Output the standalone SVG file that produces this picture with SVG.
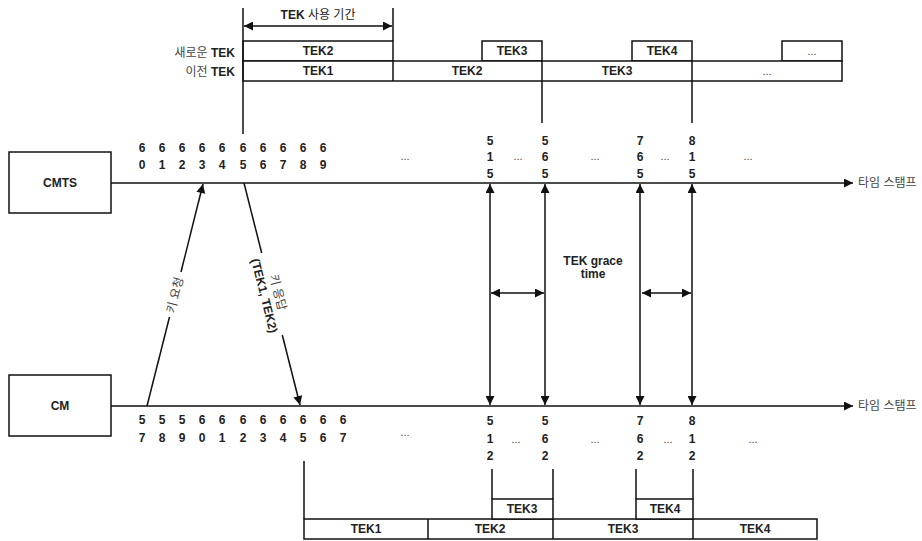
<svg xmlns="http://www.w3.org/2000/svg" width="922" height="541" viewBox="0 0 922 541">
<style>
  .ln{stroke:#111;stroke-width:1.5;fill:none}
  .bx{stroke:#111;stroke-width:1.5;fill:#fff}
  .t{font-family:"Liberation Sans","Noto Sans CJK KR",sans-serif;font-size:12px;font-weight:bold;fill:#222;text-anchor:middle}
  .k{font-family:"Liberation Sans","Noto Sans CJK KR",sans-serif;font-size:12px;fill:#444}
  .n{font-family:"Liberation Sans",sans-serif;font-size:12px;font-weight:bold;fill:#222;text-anchor:middle}
  .d{font-family:"Liberation Sans",sans-serif;font-size:11px;fill:#444;text-anchor:middle}
</style>
<defs>
  <marker id="ah" viewBox="0 0 10 10" refX="10" refY="5" markerWidth="10" markerHeight="9" markerUnits="userSpaceOnUse" orient="auto-start-reverse">
    <path d="M0,0 L10,5 L0,10 z" fill="#111"/>
  </marker>
</defs>
<rect width="922" height="541" fill="#fff"/>

<g id="tek-schedule-top">
  <text class="t" x="318" y="19">TEK <tspan font-weight="normal">사용 기간</tspan></text>
  <rect class="bx" x="243" y="41" width="150" height="20"/>
  <text class="t" x="318" y="55">TEK2</text>
  <rect class="bx" x="482" y="41" width="60" height="20"/>
  <text class="t" x="512" y="55">TEK3</text>
  <rect class="bx" x="632" y="41" width="60" height="20"/>
  <text class="t" x="662" y="55">TEK4</text>
  <rect class="bx" x="782" y="41" width="60" height="20"/>
  <text class="d" x="812" y="55">...</text>
  <rect class="bx" x="243" y="61" width="599" height="20"/>
  <line class="ln" x1="393" y1="61" x2="393" y2="81"/>
  <line class="ln" x1="542" y1="61" x2="542" y2="81"/>
  <line class="ln" x1="692" y1="61" x2="692" y2="81"/>
  <text class="t" x="318" y="75">TEK1</text>
  <text class="t" x="467" y="75">TEK2</text>
  <text class="t" x="617" y="75">TEK3</text>
  <text class="d" x="767" y="75">...</text>
  <text class="k" x="235" y="57" text-anchor="end">새로운 <tspan font-weight="bold" fill="#222">TEK</tspan></text>
  <text class="k" x="235" y="76" text-anchor="end">이전 <tspan font-weight="bold" fill="#222">TEK</tspan></text>
</g>

<g id="cmts">
  <rect class="bx" x="9" y="152" width="102" height="61"/>
  <text class="t" x="60" y="187">CMTS</text>
</g>
<g id="cm">
  <rect class="bx" x="9" y="375" width="102" height="61"/>
  <text class="t" x="60" y="410">CM</text>
</g>

<g id="cmts-timestamps">
  <g class="n">
    <text x="142" y="152">6</text><text x="162" y="152">6</text><text x="182" y="152">6</text><text x="202" y="152">6</text><text x="222" y="152">6</text><text x="243" y="152">6</text><text x="263" y="152">6</text><text x="283" y="152">6</text><text x="303" y="152">6</text><text x="323" y="152">6</text>
    <text x="142" y="169">0</text><text x="162" y="169">1</text><text x="182" y="169">2</text><text x="202" y="169">3</text><text x="222" y="169">4</text><text x="243" y="169">5</text><text x="263" y="169">6</text><text x="283" y="169">7</text><text x="303" y="169">8</text><text x="323" y="169">9</text>
    <text x="490" y="145">5</text><text x="490" y="161">1</text><text x="490" y="178">5</text>
    <text x="545" y="145">5</text><text x="545" y="161">6</text><text x="545" y="178">5</text>
    <text x="640" y="145">7</text><text x="640" y="161">6</text><text x="640" y="178">5</text>
    <text x="692" y="145">8</text><text x="692" y="161">1</text><text x="692" y="178">5</text>
  </g>
  <text class="d" x="405" y="160">...</text>
  <text class="d" x="518" y="160">...</text>
  <text class="d" x="595" y="160">...</text>
  <text class="d" x="665" y="160">...</text>
  <text class="d" x="748" y="160">...</text>
  <text class="k" x="858" y="187">타임 스탬프</text>
</g>

<g id="cm-timestamps">
  <g class="n">
    <text x="142" y="424">5</text><text x="162" y="424">5</text><text x="182" y="424">5</text><text x="202" y="424">6</text><text x="222" y="424">6</text><text x="243" y="424">6</text><text x="263" y="424">6</text><text x="283" y="424">6</text><text x="303" y="424">6</text><text x="323" y="424">6</text><text x="343" y="424">6</text>
    <text x="142" y="442">7</text><text x="162" y="442">8</text><text x="182" y="442">9</text><text x="202" y="442">0</text><text x="222" y="442">1</text><text x="243" y="442">2</text><text x="263" y="442">3</text><text x="283" y="442">4</text><text x="303" y="442">5</text><text x="323" y="442">6</text><text x="343" y="442">7</text>
    <text x="490" y="425">5</text><text x="490" y="443">1</text><text x="490" y="460">2</text>
    <text x="545" y="425">5</text><text x="545" y="443">6</text><text x="545" y="460">2</text>
    <text x="640" y="425">7</text><text x="640" y="443">6</text><text x="640" y="460">2</text>
    <text x="692" y="425">8</text><text x="692" y="443">1</text><text x="692" y="460">2</text>
  </g>
  <text class="d" x="405" y="436">...</text>
  <text class="d" x="516" y="443">...</text>
  <text class="d" x="595" y="443">...</text>
  <text class="d" x="668" y="443">...</text>
  <text class="d" x="753" y="443">...</text>
  <text class="k" x="858" y="410">타임 스탬프</text>
</g>

<g id="tek-schedule-bottom">
  <line class="ln" x1="304" y1="461" x2="304" y2="519"/>
  <rect class="bx" x="304" y="519" width="513" height="20"/>
  <line class="ln" x1="428" y1="519" x2="428" y2="539"/>
  <line class="ln" x1="553" y1="519" x2="553" y2="539"/>
  <line class="ln" x1="693" y1="519" x2="693" y2="539"/>
  <text class="t" x="366" y="533">TEK1</text>
  <text class="t" x="490" y="533">TEK2</text>
  <text class="t" x="623" y="533">TEK3</text>
  <text class="t" x="755" y="533">TEK4</text>
  <line class="ln" x1="492" y1="469" x2="492" y2="499"/>
  <line class="ln" x1="553" y1="469" x2="553" y2="499"/>
  <rect class="bx" x="492" y="499" width="61" height="20"/>
  <text class="t" x="522" y="513">TEK3</text>
  <line class="ln" x1="636" y1="469" x2="636" y2="499"/>
  <line class="ln" x1="693" y1="469" x2="693" y2="499"/>
  <rect class="bx" x="636" y="499" width="57" height="20"/>
  <text class="t" x="665" y="513">TEK4</text>
</g>

<g id="connectors">
  <line class="ln" x1="243" y1="8" x2="243" y2="134"/>
  <line class="ln" x1="393" y1="8" x2="393" y2="41"/>
  <line class="ln" x1="244" y1="26" x2="392" y2="26" marker-start="url(#ah)" marker-end="url(#ah)"/>
  <line class="ln" x1="542" y1="81" x2="542" y2="123"/>
  <line class="ln" x1="692" y1="81" x2="692" y2="123"/>
  <line class="ln" x1="111" y1="183" x2="853" y2="183" marker-end="url(#ah)"/>
  <line class="ln" x1="111" y1="406" x2="853" y2="406" marker-end="url(#ah)"/>
  <line class="ln" x1="490" y1="184" x2="490" y2="405" marker-start="url(#ah)" marker-end="url(#ah)"/>
  <line class="ln" x1="545" y1="184" x2="545" y2="405" marker-start="url(#ah)" marker-end="url(#ah)"/>
  <line class="ln" x1="640" y1="184" x2="640" y2="405" marker-start="url(#ah)" marker-end="url(#ah)"/>
  <line class="ln" x1="692" y1="184" x2="692" y2="405" marker-start="url(#ah)" marker-end="url(#ah)"/>
  <line class="ln" x1="491" y1="293" x2="544" y2="293" marker-start="url(#ah)" marker-end="url(#ah)"/>
  <line class="ln" x1="642" y1="293" x2="691" y2="293" marker-start="url(#ah)" marker-end="url(#ah)"/>
  <text class="t" font-size="11" x="593" y="265">TEK grace</text>
  <text class="t" font-size="11" x="593" y="278">time</text>
  <!-- key request -->
  <line class="ln" x1="147" y1="406" x2="169.5" y2="317"/>
  <line class="ln" x1="181" y1="272" x2="203" y2="184" marker-end="url(#ah)"/>
  <text class="k" text-anchor="middle" transform="translate(175,295) rotate(-75.8)" y="4">키 요청</text>
  <!-- key response -->
  <line class="ln" x1="244" y1="183" x2="261.7" y2="253"/>
  <line class="ln" x1="282.3" y1="335" x2="300" y2="405" marker-end="url(#ah)"/>
  <g transform="translate(271,294) rotate(75.8)">
    <text class="k" text-anchor="middle" y="-3">키 응답</text>
    <text class="t" y="11">(TEK1, TEK2)</text>
  </g>
</g>
</svg>
